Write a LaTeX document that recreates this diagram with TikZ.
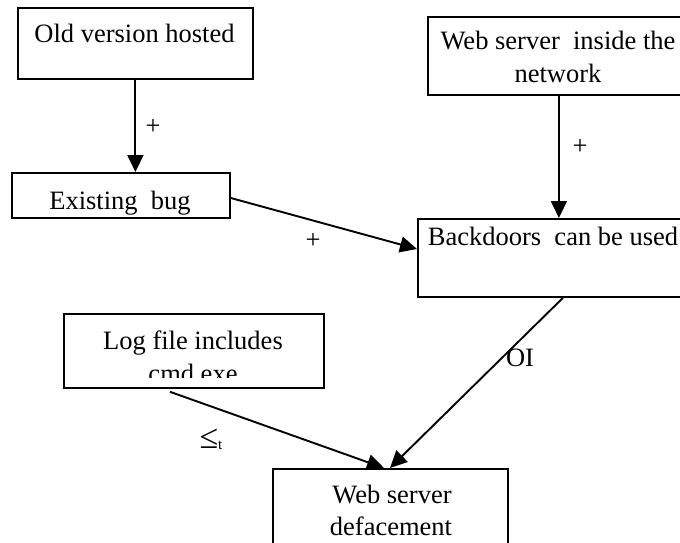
\documentclass[tikz,border=0pt]{standalone}
\usepackage{fontspec}
\setmainfont{Liberation Serif}
\usetikzlibrary{arrows.meta,calc}
\begin{document}
\begin{tikzpicture}[x=1pt,y=-1pt,
  boxnode/.style={draw, line width=1.8pt, inner sep=0pt, anchor=north west},
  txt/.style={inner sep=0pt, anchor=base, font=\fontsize{26.5}{32}\selectfont},
  lbl/.style={inner sep=0pt, font=\fontsize{26.5}{32}\selectfont},
  arr/.style={line width=1.9pt, -{Triangle[length=17pt,width=16pt]}}]
  % page frame
  \clip (0,0) rectangle (680,543);
  \fill[white] (0,0) rectangle (680,543);

  % boxes
  \node[boxnode, minimum width=235pt, minimum height=71pt] (b1) at (17,7) {};
  \node[boxnode, minimum width=218pt, minimum height=45pt] (b2) at (11,172) {};
  \node[boxnode, minimum width=262pt, minimum height=78pt] (b3) at (427,16) {};
  \node[boxnode, minimum width=272pt, minimum height=78pt] (b4) at (417,218) {};
  \node[boxnode, minimum width=260pt, minimum height=74pt] (b5) at (63,313) {};
  \node[boxnode, minimum width=235pt, minimum height=100pt] (b6) at (272,468) {};

  % box texts
  \node[txt] (t1) at (134.5,43) {Old version hosted};
  \node[txt] (t2) at (120,209) {Existing\ \ bug};
  \node[txt] (t3a) at (558,50) {Web server\ \ inside the};
  \node[txt] (t3b) at (558,82) {network};
  \node[txt] (t4) at (553,245) {Backdoors\ \ can be used};
  \node[txt] (t5a) at (193,349) {Log file includes};
  \begin{scope}
    \clip (b5.north west) rectangle ([yshift=11pt]b5.south east);
    \node[txt] (t5b) at (193,382) {cmd.exe};
  \end{scope}
  \node[txt] (t6a) at (392,503) {Web server};
  \node[txt] (t6b) at (391,535) {defacement};

  % connectors
  \draw[arr] (b1.south) -- (b1.south |- b2.north);
  \draw[arr] ([yshift=-26pt]b2.north east) -- ([yshift=-31pt]b4.north west);
  \draw[arr] (b3.south) -- (b3.south |- b4.north);
  \draw[arr] ([xshift=107pt,yshift=-3pt]b5.south west) -- ([xshift=112pt]b6.north west);
  \draw[arr] ([xshift=146pt]b4.south west) -- ([xshift=118pt]b6.north west);

  % connector labels
  \node[lbl] (l1) at (153,127) {+};
  \node[lbl] (l2) at (313,241) {+};
  \node[lbl] (l3) at (580,147) {+};
  \node[lbl] (l4) at (520,358) {OI};
  \node[lbl] (l5) at (211,439) {{\fontsize{34}{34}\selectfont ≤}\raisebox{-1pt}{\fontsize{15}{15}\selectfont t}};
\end{tikzpicture}
\end{document}
